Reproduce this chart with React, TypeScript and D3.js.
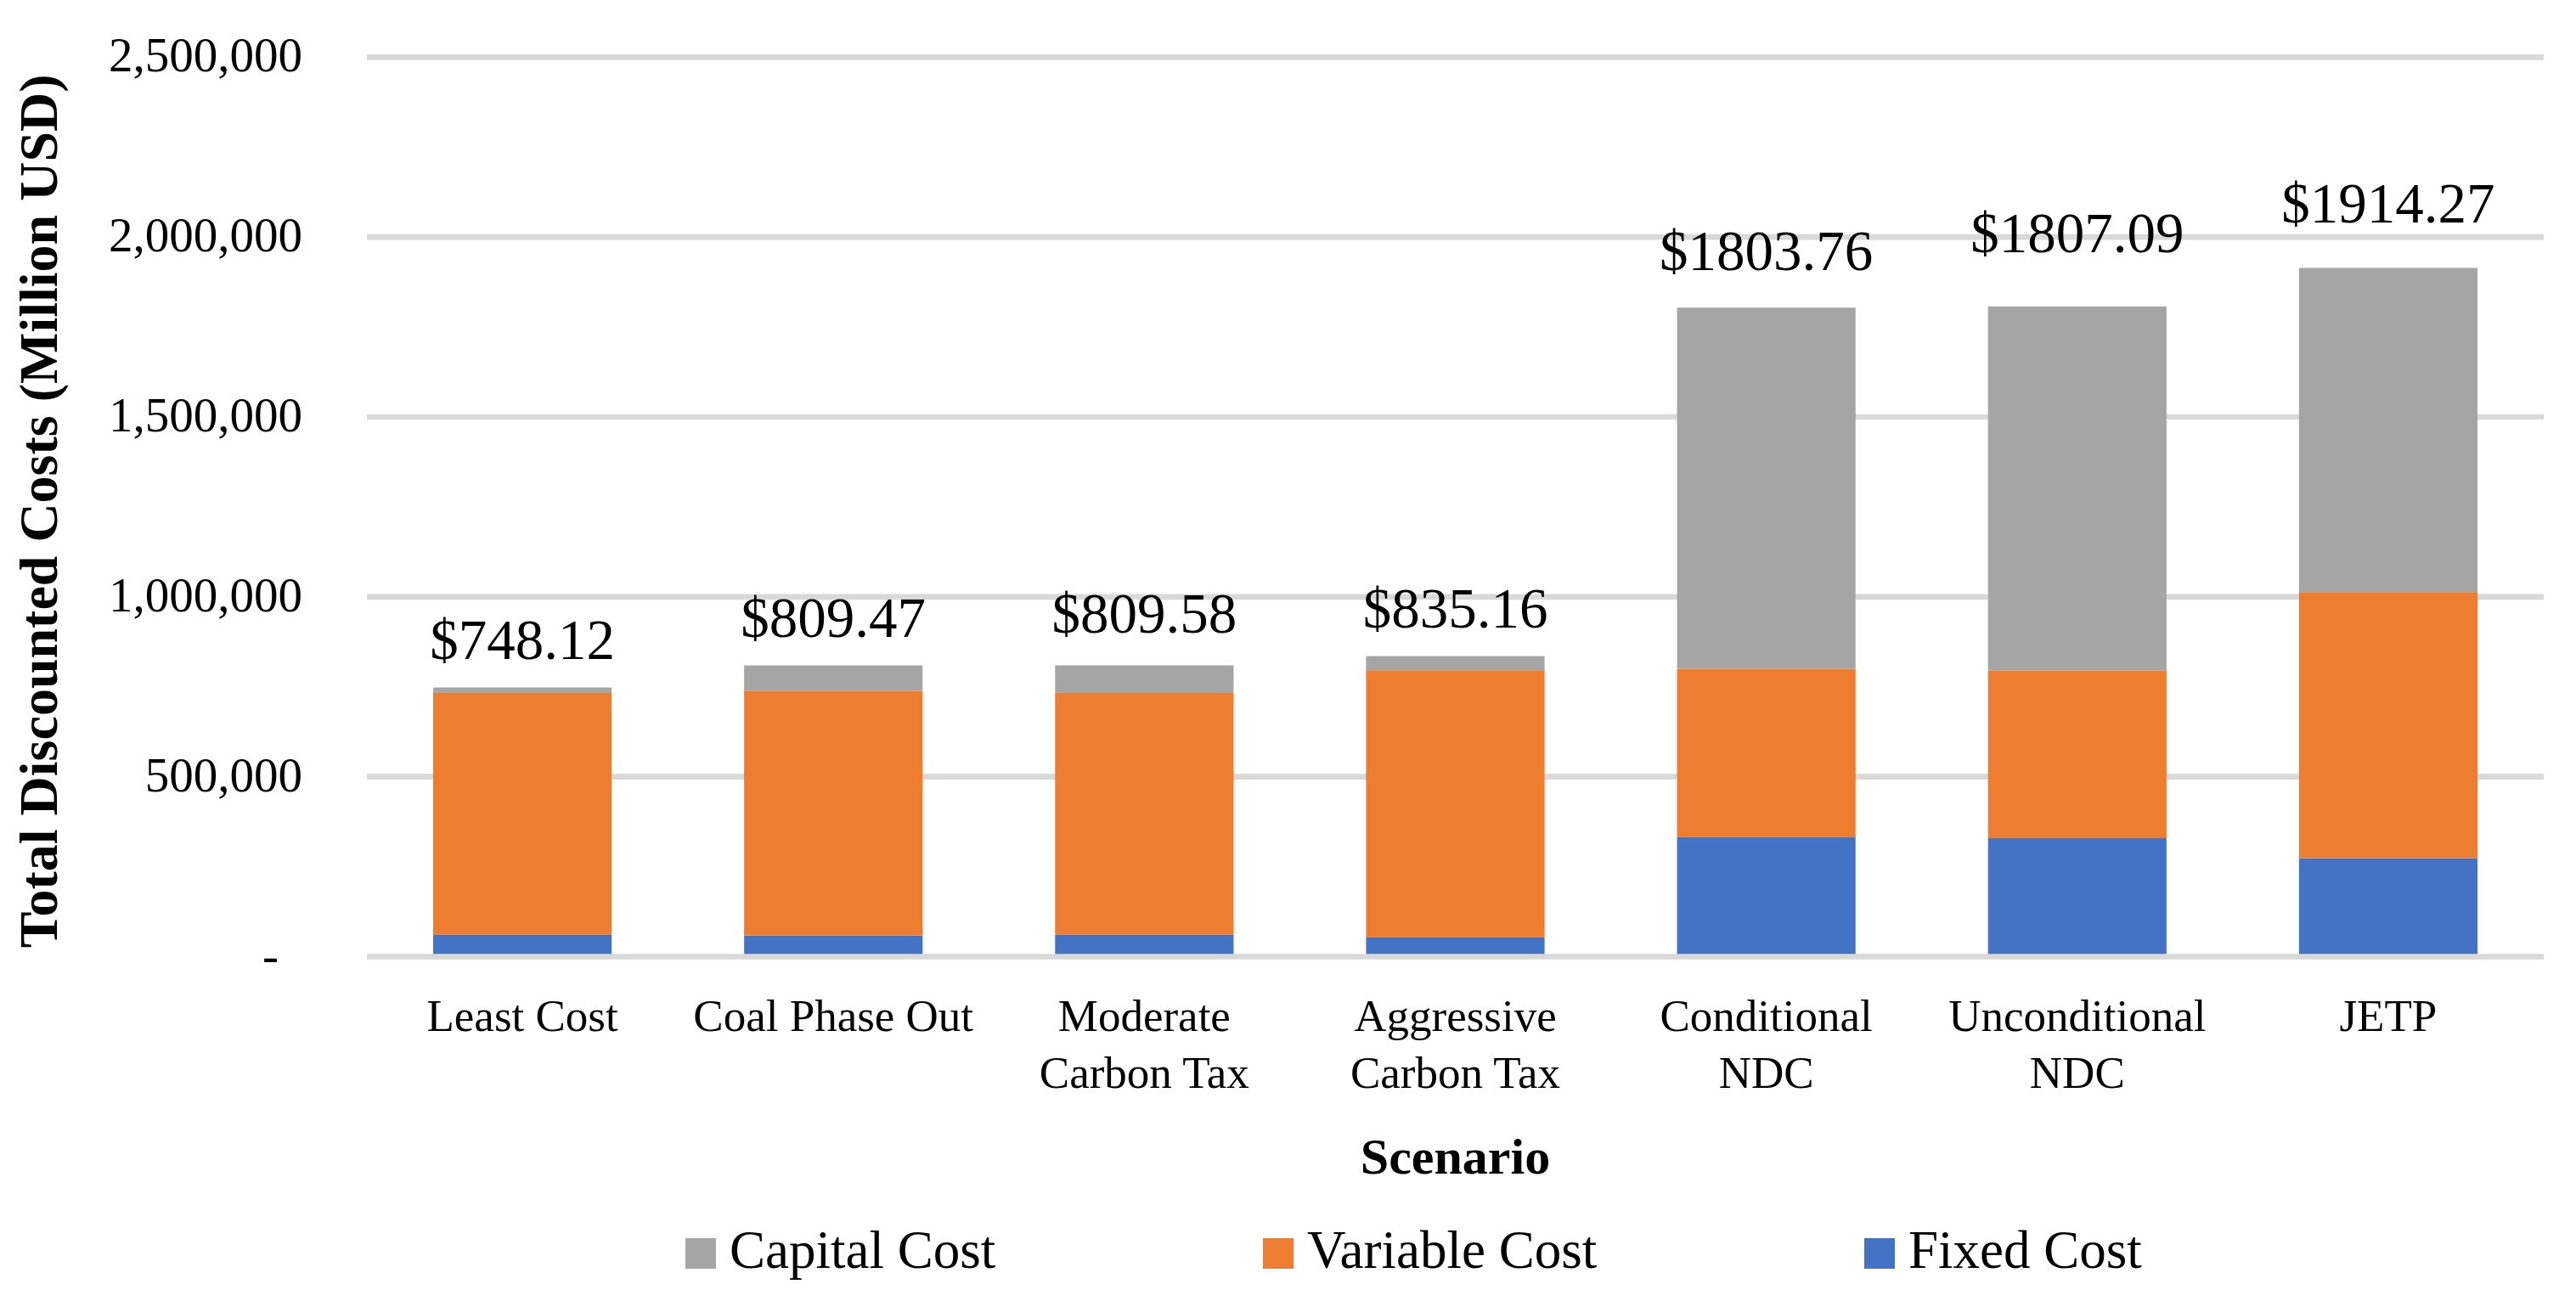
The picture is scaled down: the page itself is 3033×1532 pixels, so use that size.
import React, { useEffect } from 'react';
import * as d3 from 'd3';

// Scenario names ("\n" marks the line break under the axis)
const scenarios = [
  'Least Cost',
  'Coal Phase Out',
  'Moderate\nCarbon Tax',
  'Aggressive\nCarbon Tax',
  'Conditional\nNDC',
  'Unconditional\nNDC',
  'JETP',
];

// Million USD
const fixedCost = [60400, 58700, 60400, 53300, 331800, 329200, 273400];
const variableCost = [672600, 680300, 672600, 742700, 468400, 465800, 739800];
const capitalCost = [15120, 70470, 76580, 39160, 1003560, 1012090, 901070];

const yTicks = [0, 500000, 1000000, 1500000, 2000000, 2500000];

const seriesKeys = ['fixed', 'variable', 'capital'] as const;
const seriesNames: Record<string, string> = {
  capital: 'Capital Cost',
  variable: 'Variable Cost',
  fixed: 'Fixed Cost',
};
const colors: Record<string, string> = {
  capital: '#a5a5a5',
  variable: '#ed7d31',
  fixed: '#4472c4',
};

// layout
const W = 3033;
const H = 1532;
const plot = { left: 432, right: 2995, top: 67.3, bottom: 1126.5 };
const FONT = '"Liberation Serif", "Times New Roman", serif';
// the total labels in the source sit at slightly uneven heights
const LABEL_RAISE = [0, 0, 4, 0, 10, 30, 19];
const LEGEND_ORDER = ['capital', 'variable', 'fixed'];
const LEGEND_X = [807, 1487, 2195];

export default function App() {
  useEffect(() => {
    document.body.style.margin = '0';
  }, []);

  const rows = scenarios.map((s, i) => ({
    scenario: s,
    fixed: fixedCost[i],
    variable: variableCost[i],
    capital: capitalCost[i],
  }));

  const x = d3
    .scaleBand<string>()
    .domain(scenarios)
    .range([plot.left, plot.right])
    .paddingInner(0.426)
    .paddingOuter(0.213);

  const y = d3
    .scaleLinear()
    .domain([0, 2500000])
    .range([plot.bottom, plot.top]);

  const stack = d3.stack<any>().keys(seriesKeys as unknown as string[]);
  const layers = stack(rows);

  const fmtTick = d3.format(',');
  const fmtTotal = d3.format('.2f');

  return (
    <svg
      width={W}
      height={H}
      style={{ display: 'block', position: 'absolute', left: 0, top: 0, background: '#fff' }}
      fontFamily={FONT}
    >
      {/* gridlines (zero line drawn later, over the bars) */}
      {yTicks
        .filter((t) => t !== 0)
        .map((t) => (
          <line
            key={t}
            x1={plot.left}
            x2={plot.right}
            y1={y(t)}
            y2={y(t)}
            stroke="#d9d9d9"
            strokeWidth={6.7}
          />
        ))}

      {/* y tick labels */}
      {yTicks.map((t) => (
        <text
          key={'yl' + t}
          x={t === 0 ? 328 : 356}
          y={y(t)}
          dy="0.3em"
          textAnchor="end"
          fontSize={57}
          fill="#000"
        >
          {t === 0 ? '-' : fmtTick(t)}
        </text>
      ))}

      {/* stacked bars */}
      {layers.map((layer) => (
        <g key={layer.key} fill={colors[layer.key]}>
          {layer.map((d, i) => (
            <rect
              key={i}
              x={x(scenarios[i])}
              width={x.bandwidth()}
              y={y(d[1])}
              height={y(d[0]) - y(d[1])}
            />
          ))}
        </g>
      ))}

      {/* axis line */}
      <line
        x1={plot.left}
        x2={plot.right}
        y1={y(0)}
        y2={y(0)}
        stroke="#d9d9d9"
        strokeWidth={6.7}
      />

      {/* totals */}
      {rows.map((r, i) => {
        const total = r.fixed + r.variable + r.capital;
        return (
          <text
            key={'tot' + i}
            x={(x(r.scenario) || 0) + x.bandwidth() / 2}
            y={y(total) - 34 - LABEL_RAISE[i]}
            textAnchor="middle"
            fontSize={67}
            fill="#000"
          >
            {'$' + fmtTotal(total / 1000)}
          </text>
        );
      })}

      {/* category labels */}
      {scenarios.map((s) => (
        <text
          key={'cat' + s}
          x={(x(s) || 0) + x.bandwidth() / 2}
          y={1214}
          textAnchor="middle"
          fontSize={53}
          fill="#000"
        >
          {s.split('\n').map((line, j) => (
            <tspan key={j} x={(x(s) || 0) + x.bandwidth() / 2} dy={j === 0 ? 0 : 67}>
              {line}
            </tspan>
          ))}
        </text>
      ))}

      {/* axis titles */}
      <text
        x={(plot.left + plot.right) / 2}
        y={1382}
        textAnchor="middle"
        fontSize={60}
        fontWeight="bold"
        fill="#000"
      >
        Scenario
      </text>
      <text
        transform={`translate(67, ${(plot.top + plot.bottom) / 2 + 5}) rotate(-90)`}
        textAnchor="middle"
        fontSize={64}
        fontWeight="bold"
        fill="#000"
      >
        Total Discounted Costs (Million USD)
      </text>

      {/* legend */}
      {LEGEND_ORDER.map((k, i) => (
        <g key={'lg' + k} transform={`translate(${LEGEND_X[i]}, 1458)`}>
          <rect width={36} height={36} fill={colors[k]} />
          <text x={52} y={35} fontSize={63} fill="#000">
            {seriesNames[k]}
          </text>
        </g>
      ))}
    </svg>
  );
}
